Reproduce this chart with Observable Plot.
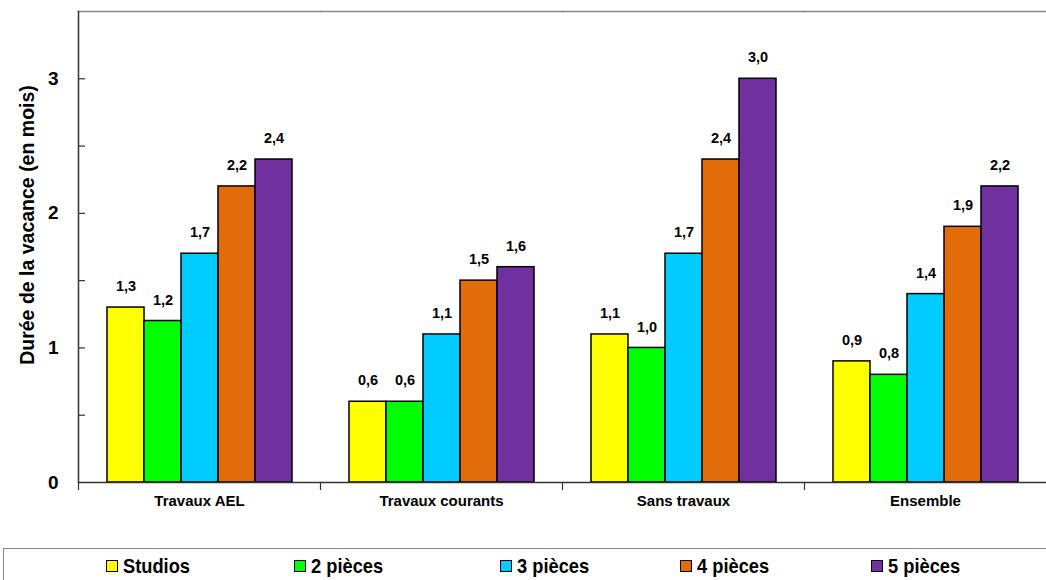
<!DOCTYPE html>
<html>
<head>
<meta charset="utf-8">
<script src="https://cdn.jsdelivr.net/npm/d3@7"></script>
<script src="https://cdn.jsdelivr.net/npm/@observablehq/plot@0.6"></script>
<style>
  body { margin: 0; background: #fff; font-family: 'Liberation Sans Narrow', 'Arial Narrow', 'Liberation Sans', Arial, sans-serif; }
  #chart svg { display: block; }
  #legend { position: relative; margin-left: 3px; margin-top: 3px; height: 40px; width: 1060px; border: 1px solid #888; box-sizing: border-box; font-weight: bold; font-size: 21px; color: #000; }
  .item { position: absolute; top: 5px; display: flex; align-items: center; white-space: nowrap; }
  .sw { width: 10px; height: 10px; border: 1.5px solid #000; margin-right: 5px; }
  .item span { display: inline-block; transform: scaleX(0.87); transform-origin: left center; }
</style>
</head>
<body>
<div id="chart"></div>
<div id="legend"></div>
<script>
const categories = ["Travaux AEL", "Travaux courants", "Sans travaux", "Ensemble"];
const types = ["Studios", "2 pièces", "3 pièces", "4 pièces", "5 pièces"];
const studios = [1.3, 0.6, 1.1, 0.9];
const pieces2 = [1.2, 0.6, 1.0, 0.8];
const pieces3 = [1.7, 1.1, 1.7, 1.4];
const pieces4 = [2.2, 1.5, 2.4, 1.9];
const pieces5 = [2.4, 1.6, 3.0, 2.2];
const yTicks = [0, 1, 2, 3];
const yMinorTicks = [0.5, 1, 1.5, 2, 2.5, 3];
const yTitle = "Durée de la vacance (en mois)";

const colors = ["#FFFF00", "#00FF00", "#00CCFF", "#E36C0A", "#7030A0"];
const series = [studios, pieces2, pieces3, pieces4, pieces5];
const data = [];
categories.forEach((c, i) => types.forEach((t, j) => data.push({cat: c, type: t, value: series[j][i]})));
const fmt = v => d3.format(".1f")(v).replace(".", ",");
const FONT = "'Liberation Sans Narrow', 'Arial Narrow', 'Liberation Sans', Arial, sans-serif";

const W = 1046, H = 545, mL = 78, mR = 0, mT = 11, mB = 63;
const facetW = (W - mL - mR) / categories.length;
const plotH = H - mT - mB;

const chart = Plot.plot({
  width: W, height: H,
  marginLeft: mL, marginRight: mR, marginTop: mT, marginBottom: mB,
  style: {fontFamily: FONT, background: "#fff"},
  fx: {domain: categories, padding: 0, axis: null},
  x: {domain: types, paddingInner: 0, paddingOuter: 0.727, axis: null},
  y: {domain: [0, 3.5]},
  color: {domain: types, range: colors},
  marks: [
    Plot.frame({anchor: "top", stroke: "#888", strokeWidth: 1.5}),
    Plot.barY(data, {fx: "cat", x: "type", y: "value", fill: "type", stroke: "#000", strokeWidth: 1.5}),
    Plot.text(data, {fx: "cat", x: "type", y: "value", text: d => fmt(d.value), dy: -21, fontSize: 14.5, fontWeight: "bold", fill: "#000"}),
    Plot.ruleY([0], {stroke: "#333", strokeWidth: 1.5}),
    Plot.frame({anchor: "left", facetAnchor: "left", stroke: "#333", strokeWidth: 1.5}),
    Plot.frame({anchor: "left", insetTop: plotH, insetBottom: -7, stroke: "#333", strokeWidth: 1.2}),
    Plot.tickY(yMinorTicks, {y: d => d, facetAnchor: "left", insetRight: facetW - 7, stroke: "#333", strokeWidth: 1.2}),
    Plot.axisY({ticks: yTicks, tickSize: 0, tickPadding: 20, label: null, fontSize: 19, fontWeight: "bold", tickFormat: d => String(d)}),
    Plot.text([yTitle], {text: d => d, frameAnchor: "left", textAnchor: "middle", rotate: -90, dx: -51, dy: -22, facetAnchor: "left", fontSize: 19.5, fontWeight: "bold", fill: "#000"}),
    Plot.axisFx({anchor: "bottom", tickSize: 0, tickPadding: 13, label: null, fontSize: 15, fontWeight: "bold"})
  ]
});
document.getElementById("chart").appendChild(chart);

const legendLeft = [102, 290, 496, 676, 867];
const legend = document.getElementById("legend");
types.forEach((t, i) => {
  const it = document.createElement("div");
  it.className = "item";
  it.style.left = legendLeft[i] + "px";
  const sw = document.createElement("div");
  sw.className = "sw";
  sw.style.background = colors[i];
  const tx = document.createElement("span");
  tx.textContent = t;
  it.appendChild(sw); it.appendChild(tx);
  legend.appendChild(it);
});
</script>
</body>
</html>
